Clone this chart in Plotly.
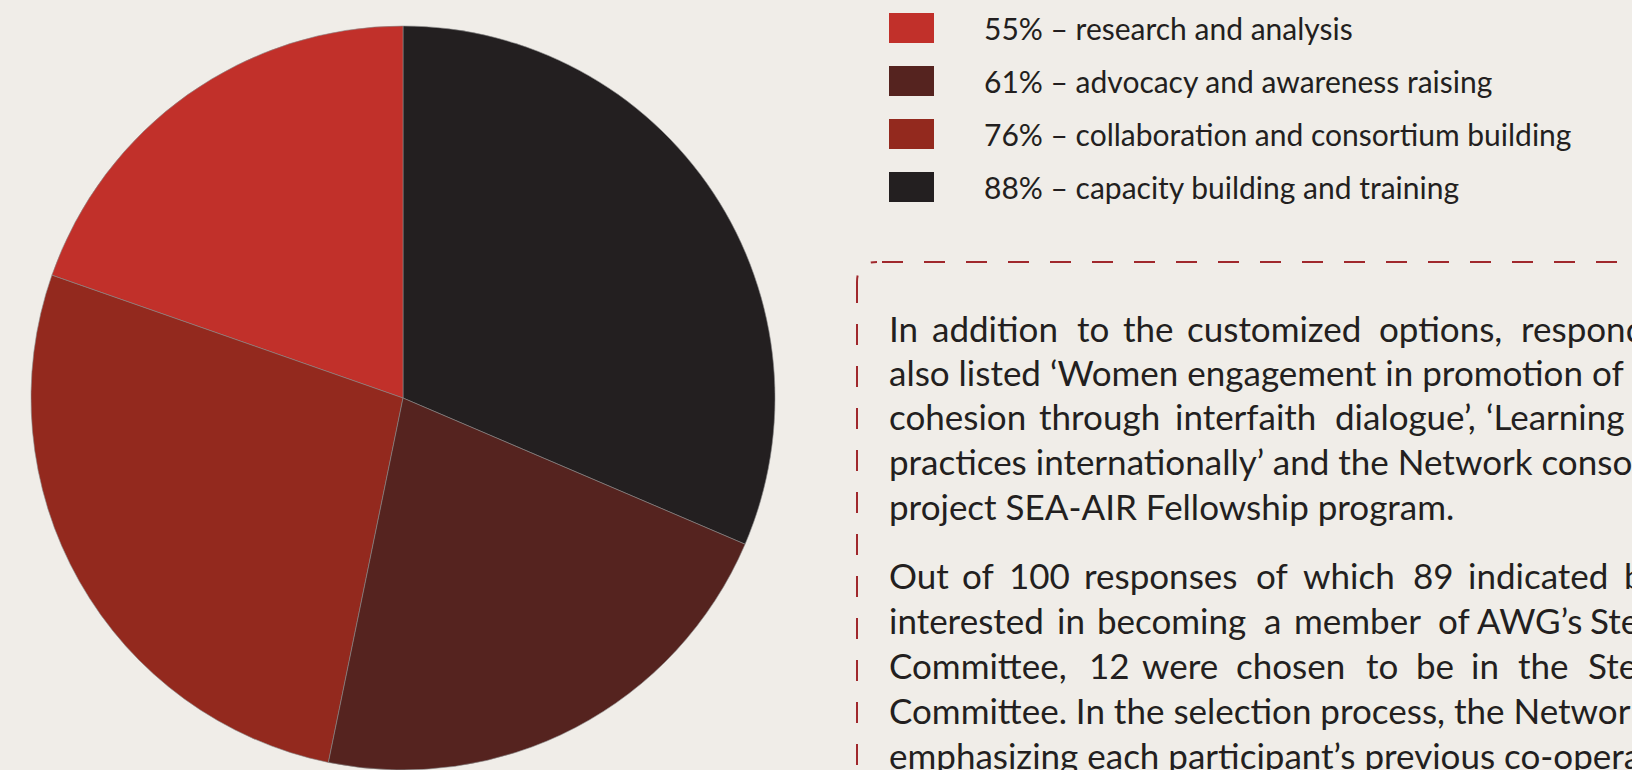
import plotly.graph_objects as go

# ---- data ----
categories = ["research and analysis", "advocacy and awareness raising",
              "collaboration and consortium building", "capacity building and training"]
values = [55, 61, 76, 88]
colors = ["#C1302A", "#55231F", "#93291E", "#231F20"]
pie_order = [3, 0, 2, 1]  # slice drawing order around the pie

# justified lines: words with their left edges; plain lines: one string
para_lines = [
    [("In", 890), ("addition", 933), ("to", 1078), ("the", 1124), ("customized", 1188), ("options,", 1380), ("respondents", 1522)],
    [("also listed ‘Women engagement in promotion of social", 890)],
    [("cohesion", 890), ("through", 1040), ("interfaith", 1176), ("dialogue’,", 1336), ("‘Learning", 1487)],
    [("practices internationally’ and the Network consortium", 890)],
    [("project SEA-AIR Fellowship program.", 890)],
    [("Out", 890), ("of", 963), ("100", 1010), ("responses", 1085), ("of", 1257), ("which", 1304), ("89", 1414), ("indicated", 1469), ("being", 1625)],
    [("interested", 890), ("in", 1058), ("becoming", 1098), ("a", 1265), ("member", 1295), ("of", 1439), ("AWG’s", 1478), ("Steering", 1591)],
    [("Committee,", 890), ("12", 1090), ("were", 1143), ("chosen", 1237), ("to", 1367), ("be", 1417), ("in", 1472), ("the", 1519), ("Steering", 1589)],
    [("Committee. In the selection process, the Network", 890)],
    [("emphasizing each participant’s previous co-operation", 890)],
]
para_baselines = [342, 386, 430, 475, 520, 589, 634, 679, 724, 769]

W, H = 1632, 770
BG = "#F0EDE8"
TXT = "#231F20"
FONT = "Lato"
PFS = 35
LFS = 30

fig = go.Figure()

fig.add_trace(go.Pie(
    values=[values[i] for i in pie_order],
    labels=[categories[i] for i in pie_order],
    marker=dict(colors=[colors[i] for i in pie_order], line=dict(color="#8a8a8a", width=0.6)),
    sort=False,
    direction="counterclockwise",
    textinfo="none",
    hoverinfo="label+value",
    showlegend=False,
    domain=dict(x=[0, 806 / W], y=[0, 744 / H]),
))

annotations = []
shapes = []

# legend
legend_y = [28, 81, 134, 187]
for cat, v, c, yy in zip(categories, values, colors, legend_y):
    shapes.append(dict(type="rect", xref="x", yref="y", x0=889, x1=934, y0=yy - 15, y1=yy + 15,
                       fillcolor=c, line=dict(width=0)))
    annotations.append(dict(xref="x", yref="y", x=982, y=yy, xanchor="left", yanchor="middle",
                            text=f"{v}% – {cat}", showarrow=False,
                            font=dict(family=FONT, size=LFS, color=TXT)))

# paragraph text
for words, b in zip(para_lines, para_baselines):
    for w, x in words:
        annotations.append(dict(xref="x", yref="y", x=x - 3, y=b - 0.39 * PFS, xanchor="left", yanchor="middle",
                                text=w, showarrow=False,
                                font=dict(family=FONT, size=PFS, color=TXT)))

# dashed box border
DC = "#A0282C"
shapes.append(dict(type="path", xref="x", yref="y", path="M 1659,262 L 877,262",
                   line=dict(color=DC, width=2, dash="21px,21px")))
shapes.append(dict(type="path", xref="x", yref="y", path="M 877,262 Q 857,262 857,282",
                   line=dict(color=DC, width=2, dash="6px,20px,10px")))
shapes.append(dict(type="path", xref="x", yref="y", path="M 857,282 L 857,800",
                   line=dict(color=DC, width=2, dash="21px,21px")))

fig.update_layout(
    width=W, height=H,
    margin=dict(l=0, r=0, t=0, b=0),
    paper_bgcolor=BG, plot_bgcolor="rgba(0,0,0,0)",
    xaxis=dict(range=[0, W], visible=False, fixedrange=True),
    yaxis=dict(range=[H, 0], visible=False, fixedrange=True),
    annotations=annotations,
    shapes=shapes,
    showlegend=False,
)

fig.write_html("out.html",
               config={"displayModeBar": False},
               post_script="document.body.style.margin='0';document.body.style.overflow='hidden';")
